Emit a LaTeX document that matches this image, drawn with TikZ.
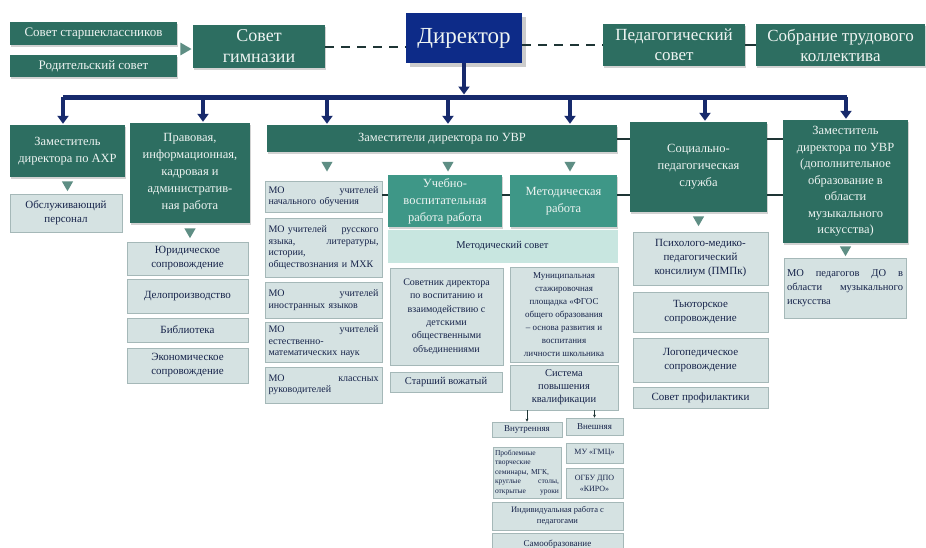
\documentclass[tikz,border=0pt]{standalone}
\usepackage{fontspec}
\setmainfont{Liberation Serif}
\usetikzlibrary{arrows.meta,positioning,calc,shapes.geometric,shadows}

\definecolor{dkgreen}{HTML}{2D6E61}
\definecolor{midteal}{HTML}{3E9787}
\definecolor{lite}{HTML}{D5E2E2}
\definecolor{liteline}{HTML}{A5B8B8}
\definecolor{litetext}{HTML}{16234A}
\definecolor{paleteal}{HTML}{C8E6E0}
\definecolor{dirnavy}{HTML}{0D2B88}
\definecolor{busnavy}{HTML}{172A6C}
\definecolor{trigreen}{HTML}{5E8E84}
\definecolor{linkclr}{HTML}{1E3535}
\definecolor{boxtext}{HTML}{EEF4F2}

\newcommand{\fsSmallTop}{\fontsize{13}{15}\selectfont}
\newcommand{\fsGym}{\fontsize{18}{21}\selectfont}
\newcommand{\fsTopBig}{\fontsize{17}{20}\selectfont}
\newcommand{\fsDir}{\fontsize{23}{26}\selectfont}
\newcommand{\fsGreen}{\fontsize{12.5}{17}\selectfont}
\newcommand{\fsLite}{\fontsize{11}{14}\selectfont}
\newcommand{\fsMO}{\fontsize{10}{11.5}\selectfont}
\newcommand{\fsMid}{\fontsize{10.5}{13}\selectfont}
\newcommand{\fsTiny}{\fontsize{8.5}{11}\selectfont}

\tikzset{
  topbox/.style={fill=dkgreen, text=boxtext, align=center, inner sep=2pt,
    drop shadow={opacity=0.35, shadow xshift=1pt, shadow yshift=-1.5pt}},
  greenbox/.style={topbox, font=\fsGreen},
  tealbox/.style={topbox, fill=midteal, font=\fsGreen},
  dirbox/.style={fill=dirnavy, text=boxtext, font=\fsDir, inner sep=2pt,
    drop shadow={opacity=0.4, shadow xshift=4pt, shadow yshift=-4pt}},
  litebox/.style={fill=lite, draw=liteline, line width=0.8pt, text=litetext,
    align=center, inner sep=3pt, font=\fsLite,
    drop shadow={opacity=0.18, shadow xshift=1pt, shadow yshift=-1pt}},
  mobox/.style={litebox, font=\fsMO, align=left, text width=110pt},
  tri/.style={regular polygon, regular polygon sides=3, shape border rotate=180,
    fill=trigreen, inner sep=0pt, minimum size=13pt},
  link/.style={draw=linkclr, line width=2pt},
  dashlink/.style={draw=linkclr, line width=2pt, dash pattern=on 9pt off 7pt},
  bus/.style={draw=busnavy, line width=5pt},
  drop/.style={draw=busnavy, line width=4pt, -{Triangle[width=11pt,length=8pt]}, shorten >=1pt},
  tinyarr/.style={draw=linkclr, line width=0.8pt, -{Stealth[length=3pt,width=3pt]}}
}

\begin{document}
\begin{tikzpicture}[x=1pt,y=-1pt]
  \useasboundingbox (0,0) rectangle (926,547);
  \fill[white] (0,0) rectangle (926,547);
  \clip (0,0) rectangle (926,547);

  % top row
  \node (ssk) [topbox, font=\fsSmallTop, minimum width=167pt, minimum height=23pt] at (93.5,33.5) {Совет старшеклассников};
  \node (rod) [topbox, font=\fsSmallTop, minimum width=167pt, minimum height=22pt] at (93.5,66) {Родительский совет};
  \node (tgym) [tri, shape border rotate=-90, minimum size=15pt] at (184,49) {};
  \node (gym) [topbox, font=\fsGym, minimum width=132pt, minimum height=43pt] at (259,46.5) {Совет\\гимназии};
  \node (dir) [dirbox, minimum width=116pt, minimum height=50pt] at (464,38) {Директор};
  \node (ped) [topbox, font=\fsTopBig, minimum width=142pt, minimum height=42pt] at (674,45) {Педагогический\\совет};
  \node (sob) [topbox, font=\fsTopBig, minimum width=169pt, minimum height=42pt] at (840.5,45) {Собрание трудового\\коллектива};

  \draw[dashlink] (gym.east) -- (gym.east -| dir.west);
  \draw[dashlink] (ped.west -| dir.east) -- (ped.west);
  \draw[link] (ped.east) -- (sob.west);

  % second row
  \node (axr) [greenbox, minimum width=115pt, minimum height=52pt] at (67.5,151) {Заместитель\\директора по АХР};
  \node (prav) [greenbox, minimum width=120pt, minimum height=100pt] at (190,173) {Правовая,\\информационная,\\кадровая и\\административ-\\ная работа};
  \node (uvr) [greenbox, minimum width=350pt, minimum height=27pt] at (442,138.5) {Заместители директора по УВР};
  \node (soc) [greenbox, minimum width=137pt, minimum height=90pt] at (698.5,167) {Социально-\\педагогическая\\служба};
  \node (zdo) [greenbox, font=\fontsize{12.5}{16.5}\selectfont, minimum width=125pt, minimum height=123pt] at (845.5,181.5) {Заместитель\\директора по УВР\\(дополнительное\\образование в\\области\\музыкального\\искусства)};

  % bus and drops
  \coordinate (busL) at (63,97);
  \coordinate (busR) at (847,97);
  \draw[bus] (busL) -- (busR);
  \draw[drop, shorten >=2.5pt] (dir.south) -- (dir.south |- busL);
  \foreach \bx/\tgt in {63/axr,203/prav,327/uvr,448/uvr,570/uvr,705/soc,846/zdo}{
    \coordinate (dp) at (\bx,97);
    \draw[drop] (dp) -- (dp |- \tgt.north);
  }

  % AXR and legal branch
  \node (taxr) [tri, below=4pt of axr] {};
  \node (obs) [litebox, minimum width=112pt, minimum height=38pt] at (66,213) {Обслуживающий\\персонал};
  \node (tprav) [tri, below=5pt of prav] {};
  \node (yur) [litebox, minimum width=121pt, minimum height=33pt] at (187.5,258.5) {Юридическое\\сопровождение};
  \node (del) [litebox, minimum width=121pt, minimum height=34pt] at (187.5,296) {Делопроизводство};
  \node (bib) [litebox, minimum width=121pt, minimum height=24pt] at (187.5,330) {Библиотека};
  \node (eko) [litebox, minimum width=121pt, minimum height=35pt] at (187.5,365.5) {Экономическое\\сопровождение};

  % UVR branch
  \node (tu1) [tri] at (327,165) {};
  \node (tu2) [tri] at (448,165) {};
  \node (tu3) [tri] at (570,165) {};
  \node (mo1) [mobox, minimum width=117pt, minimum height=31pt] at (323.5,196.5) {МО\hfill учителей\\начального обучения};
  \node (mo2) [mobox, minimum width=117pt, minimum height=59pt] at (323.5,247.5) {МО учителей\hfill русского\\языка,\hfill литературы,\\истории,\\обществознания и МХК};
  \node (mo3) [mobox, minimum width=117pt, minimum height=36pt] at (323.5,300) {МО\hfill учителей\\иностранных языков};
  \node (mo4) [mobox, minimum width=117pt, minimum height=40pt] at (323.5,342) {МО\hfill учителей\\естественно-\\математических наук};
  \node (mo5) [mobox, minimum width=117pt, minimum height=36pt] at (323.5,385) {МО\hfill классных\\руководителей};
  \node (uvp) [tealbox, minimum width=114pt, minimum height=52pt] at (445,201) {Учебно-\\воспитательная\\работа работа};
  \node (met) [tealbox, minimum width=107pt, minimum height=52pt] at (563.5,201) {Методическая\\работа};
  \node (msov) [litebox, fill=paleteal, draw=paleteal, font=\fsMid, minimum width=229pt, minimum height=32pt] at (502.5,246) {Методический совет};
  \node (sov) [litebox, font=\fontsize{10}{13.3}\selectfont, minimum width=113pt, minimum height=97pt] at (446.5,316.5) {Советник директора\\по воспитанию и\\взаимодействию с\\детскими\\общественными\\объединениями};
  \node (vozh) [litebox, font=\fsMid, minimum width=112pt, minimum height=20pt] at (446,382) {Старший вожатый};
  \node (mun) [litebox, font=\fontsize{9}{13}\selectfont, minimum width=108pt, minimum height=95pt] at (564,314.5) {Муниципальная\\стажировочная\\площадка «ФГОС\\общего образования\\– основа развития и\\воспитания\\личности школьника};
  \node (spk) [litebox, font=\fsMid, minimum width=108pt, minimum height=45pt] at (564,387.5) {Система\\повышения\\квалификации};
  \node (vnut) [litebox, font=\fontsize{9}{11}\selectfont, inner sep=1pt, minimum width=70pt, minimum height=15pt] at (527,429.5) {Внутренняя};
  \node (vnesh) [litebox, font=\fontsize{9}{11}\selectfont, inner sep=1pt, minimum width=57pt, minimum height=17pt] at (594.5,426.5) {Внешняя};
  \node (probl) [litebox, font=\fontsize{7.5}{9.5}\selectfont, align=left, inner sep=2pt, text width=64pt, minimum height=51pt] at (527,472.5) {Проблемные\\творческие\\семинары, МГК,\\круглые\hfill столы,\\открытые\hfill уроки};
  \node (gmc) [litebox, font=\fontsize{8}{10}\selectfont, inner sep=1pt, minimum width=57pt, minimum height=20pt] at (594.5,453) {МУ «ГМЦ»};
  \node (kiro) [litebox, font=\fontsize{8}{11}\selectfont, inner sep=1pt, minimum width=57pt, minimum height=30pt] at (594.5,483) {ОГБУ ДПО\\«КИРО»};
  \node (ind) [litebox, font=\fsTiny, minimum width=131pt, minimum height=28pt] at (557.5,516) {Индивидуальная работа с\\педагогами};
  \node (samo) [litebox, font=\fontsize{9}{11}\selectfont, minimum width=131pt, minimum height=22pt] at (557.5,544) {Самообразование};

  % social and music branches
  \node (tsoc) [tri, below=4pt of soc] {};
  \node (pmpk) [litebox, minimum width=135pt, minimum height=53pt] at (700.5,258.5) {Психолого-медико-\\педагогический\\консилиум (ПМПк)};
  \node (tyut) [litebox, minimum width=135pt, minimum height=40pt] at (700.5,312) {Тьюторское\\сопровождение};
  \node (logo) [litebox, minimum width=135pt, minimum height=44pt] at (700.5,360) {Логопедическое\\сопровождение};
  \node (proph) [litebox, minimum width=135pt, minimum height=21pt] at (700.5,397.5) {Совет профилактики};
  \node (tzdo) [tri, below=3pt of zdo] {};
  \node (modo) [litebox, font=\fontsize{10.5}{14}\selectfont, align=left, text width=116pt, minimum height=60pt] at (845,288) {МО\hfill педагогов\hfill ДО\hfill в\\области\hfill музыкального\\искусства};

  % short links between boxes
  \coordinate (ly) at (0,195);
  \draw[link] (uvr.east) -- (uvr.east -| soc.west);
  \draw[link] (soc.east |- uvr.east) -- (zdo.west |- uvr.east);
  \draw[link] (mo1.east |- ly) -- (uvp.west |- ly);
  \draw[link] (uvp.east |- ly) -- (met.west |- ly);
  \draw[link] (met.east |- ly) -- (soc.west |- ly);
  \draw[link] (soc.east |- ly) -- (zdo.west |- ly);
  \draw[tinyarr] (spk.south -| vnut.north) -- (vnut.north);
  \draw[tinyarr] (spk.south -| vnesh.north) -- (vnesh.north);
\end{tikzpicture}
\end{document}
